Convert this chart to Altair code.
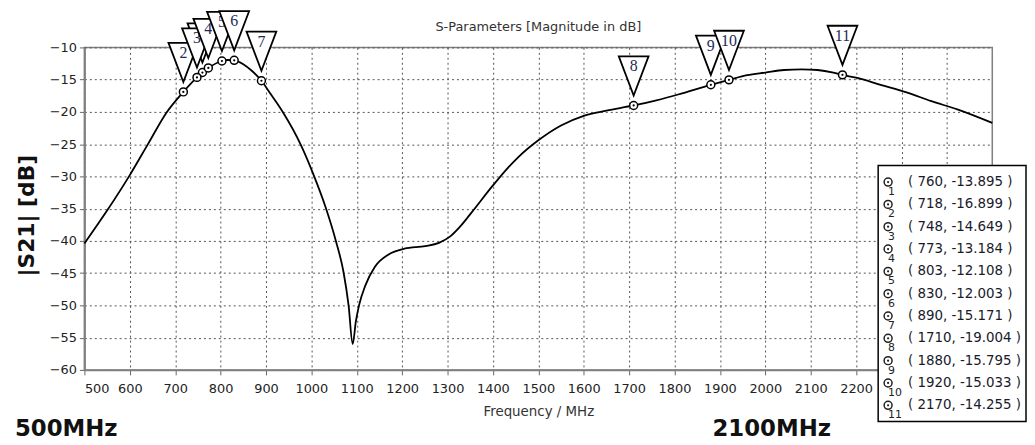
import altair as alt
import pandas as pd

# ---- curve (MHz, dB) ----
freq = [500, 550, 600, 640, 680, 718, 748, 760, 773, 803, 815, 830, 850, 870, 890,
        910, 936, 976, 1004, 1031, 1054, 1071, 1082, 1091, 1098,
        1105, 1119, 1140, 1170, 1205, 1251, 1281, 1306, 1330, 1354,
        1400, 1430, 1456, 1500, 1550, 1600, 1650, 1710, 1760, 1808,
        1880, 1920, 1960, 2000, 2041, 2080, 2115, 2150, 2170, 2200,
        2254, 2313, 2364, 2423, 2500]
s21 = [-40.4, -35.3, -29.8, -25.0, -20.2, -16.899, -14.649, -13.895, -13.184, -12.108, -11.95, -12.003, -12.6, -13.7, -15.171,
       -17.2, -19.9, -25.0, -29.6, -34.7, -40.0, -44.9, -50.0, -56.0, -52.5,
       -50.0, -46.9, -44.0, -42.1, -41.2, -40.8, -40.3, -39.3, -37.6, -35.5,
       -31.4, -28.9, -27.0, -24.4, -22.1, -20.6, -19.8, -19.004, -18.2, -17.3,
       -15.795, -15.033, -14.3, -13.9, -13.5, -13.4, -13.5, -13.9, -14.255, -14.7,
       -15.8, -17.0, -18.3, -19.6, -21.7]

# ---- markers ----
mk_id = [1, 2, 3, 4, 5, 6, 7, 8, 9, 10, 11]
mk_freq = [760, 718, 748, 773, 803, 830, 890, 1710, 1880, 1920, 2170]
mk_db = [-13.895, -16.899, -14.649, -13.184, -12.108, -12.003, -15.171, -19.004, -15.795, -15.033, -14.255]
hidden_labels = [1]   # marker 1's flag number is covered by flags 3 and 4

x_ticks = list(range(500, 2500, 100))
y_ticks = list(range(-10, -65, -5))

title_text = "S-Parameters [Magnitude in dB]"
x_title = "Frequency / MHz"
y_title = "|S21| [dB]"
left_note = "500MHz"
right_note = "2100MHz"

curve_df = pd.DataFrame({"freq": freq, "db": s21})
mk_df = pd.DataFrame({"id": mk_id, "freq": mk_freq, "db": mk_db})
mk_df["label"] = mk_df["id"].astype(str)
mk_df["row"] = mk_df["id"]
mk_df["legend"] = [f"( {f}, {d:.3f} )" for f, d in zip(mk_freq, mk_db)]
one = pd.DataFrame({"a": [0]})

AX = dict(
    labelFont="DejaVu Sans", labelFontSize=13, labelColor="#222",
    tickColor="#666", tickSize=5, domainColor="#808080", domainWidth=2,
    grid=True, gridColor="#555", gridDash=[2, 3], gridWidth=1,
)

x_enc = alt.X("freq:Q", scale=alt.Scale(domain=[500, 2500], nice=False, zero=False),
              axis=alt.Axis(values=x_ticks, title=x_title, labelPadding=14, labelBaseline="middle",
                            labelExpr="datum.value > 2250 ? '' : format(datum.value, 'd')",
                            titleFont="DejaVu Sans", titleFontSize=13.5, titleFontWeight="normal",
                            titleColor="#333", titleY=42, titleBaseline="middle", **AX))
y_enc = alt.Y("db:Q", scale=alt.Scale(domain=[-60, -10], nice=False, zero=False),
              axis=alt.Axis(values=y_ticks, title=y_title, labelPadding=3,
                            titleFont="DejaVu Sans", titleFontSize=22, titleFontWeight="bold",
                            titleColor="#111", titleAngle=-90, titleX=-58, titleY=169,
                            titleAlign="center", titleBaseline="middle", **AX))

line = alt.Chart(curve_df).mark_line(color="black", strokeWidth=1.8, interpolate="monotone").encode(x=x_enc, y=y_enc)
rings = alt.Chart(mk_df).mark_point(shape="circle", size=64, filled=True, fill="white", stroke="black",
                                    strokeWidth=1.5, opacity=1).encode(x=x_enc, y=y_enc)
dots = alt.Chart(mk_df).mark_point(shape="circle", size=5, filled=True, color="black", opacity=1).encode(x=x_enc, y=y_enc)

TRI = "M -1 -3.3 L 1 -3.3 L 0 -0.667 Z"
layers = [line, rings, dots]
for i in mk_id:
    base = alt.Chart(mk_df).transform_filter(alt.datum.id == i)
    layers.append(base.mark_point(shape=TRI, size=900, filled=True, fill="white", stroke="black",
                                  strokeWidth=1.8, opacity=1).encode(x=x_enc, y=y_enc))
    if i not in hidden_labels:
        layers.append(base.mark_text(dy=-39.5, font="Liberation Serif", fontSize=16, color="#1e2a55",
                                     baseline="middle").encode(x=x_enc, y=y_enc, text="label:N"))
main = alt.layer(*layers)

# ---- legend box and notes ----
leg_y = alt.Y("row:Q", scale=alt.Scale(domain=[1, 11], range=[135.7, 360.7]), axis=None)
box = alt.Chart(one).mark_rect(fill="white", stroke="black", strokeWidth=1.5).encode(
    x=alt.value(800), x2=alt.value(949), y=alt.value(119), y2=alt.value(377))
leg_ring = alt.Chart(mk_df).mark_point(shape="circle", size=64, filled=True, fill="white", stroke="#222",
                                       strokeWidth=1.5, opacity=1).encode(x=alt.value(810), y=leg_y)
leg_dot = alt.Chart(mk_df).mark_point(shape="circle", size=5, filled=True, color="#222", opacity=1).encode(
    x=alt.value(810), y=leg_y)
leg_sub = alt.Chart(mk_df).mark_text(align="left", baseline="middle", dy=10, font="DejaVu Sans", fontSize=11,
                                     color="#222").encode(x=alt.value(810), y=leg_y, text="label:N")
leg_txt = alt.Chart(mk_df).mark_text(align="left", baseline="middle", font="DejaVu Sans", fontSize=13.5,
                                     color="#1a1a2a").encode(x=alt.value(830), y=leg_y, text="legend:N")
ttl = alt.Chart(one).mark_text(align="center", baseline="middle", font="DejaVu Sans", fontSize=13,
                               color="#333", text=title_text).encode(x=alt.value(457.5), y=alt.value(-21))
n1 = alt.Chart(one).mark_text(align="left", baseline="middle", font="DejaVu Sans", fontSize=23, fontWeight="bold",
                              color="#111", text=left_note).encode(x=alt.value(-70), y=alt.value(385))
n2 = alt.Chart(one).mark_text(align="left", baseline="middle", font="DejaVu Sans", fontSize=23, fontWeight="bold",
                              color="#111", text=right_note).encode(x=alt.value(633), y=alt.value(385))
legend = alt.layer(box, leg_ring, leg_dot, leg_sub, leg_txt, ttl, n1, n2)

chart = alt.layer(main, legend).resolve_scale(y="independent").properties(
    width=915, height=325,
    padding={"left": 77, "top": 38, "right": 35, "bottom": 76},
    autosize=alt.AutoSizeParams(type="none"),
    background="white",
).configure_view(stroke="#808080", strokeWidth=1.5)

chart.save("out.html", embed_options={"renderer": "svg", "actions": False})
